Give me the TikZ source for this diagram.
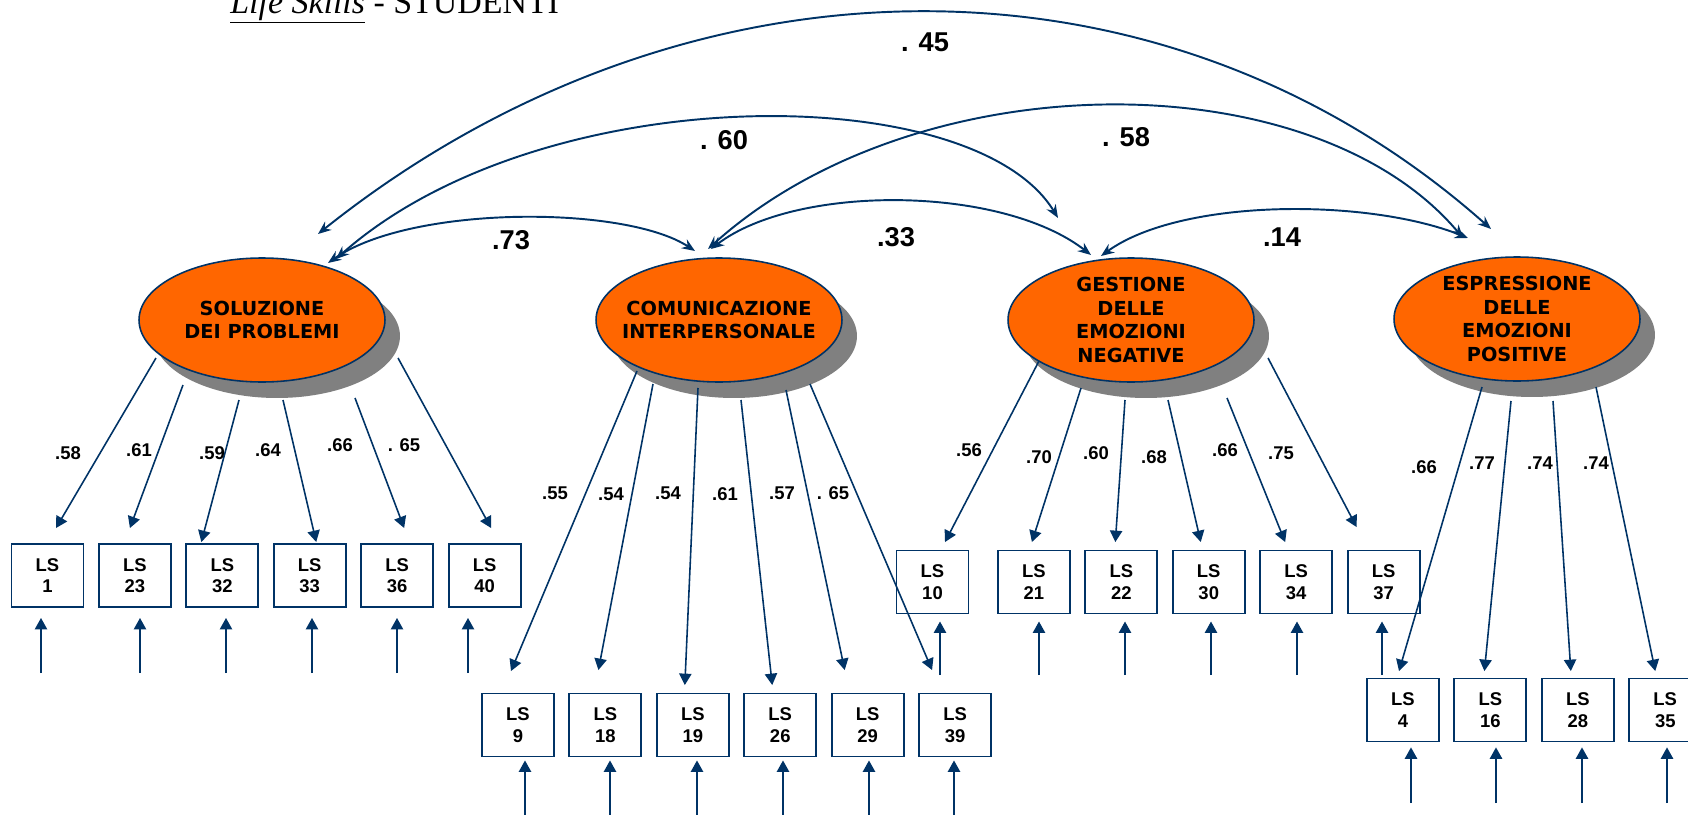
\documentclass[tikz,border=0pt]{standalone}
\usepackage{fontspec}
\setmainfont{Liberation Sans}
\newfontfamily\ellfont{DejaVu Sans}
\newfontfamily\titlefont{Liberation Serif}
\usetikzlibrary{arrows.meta,calc,positioning,shadows,shapes.geometric}
\definecolor{navy}{RGB}{0,51,102}
\definecolor{lvorange}{RGB}{255,102,0}
\definecolor{shadowgrey}{RGB}{128,128,128}

\begin{document}
\begin{tikzpicture}[x=0.02cm,y=-0.02cm,
    latent/.style={ellipse,draw=navy,line width=0.9pt,fill=lvorange,
      minimum width=4.92cm,minimum height=2.48cm,inner xsep=-6pt,inner ysep=0pt,align=center,
      font=\ellfont\bfseries\fontsize{11}{13.6}\selectfont,
      drop shadow={shadow xshift=0.3cm,shadow yshift=-0.32cm,opacity=1,fill=shadowgrey}},
    manifest/.style={rectangle,draw=navy,line width=1.1pt,fill=white,
      minimum width=1.44cm,minimum height=1.26cm,inner sep=0pt,align=center,
      font=\bfseries\fontsize{10.5}{12.3}\selectfont},
    corr/.style={<->,>={Stealth[length=7.5pt,width=6pt,inset=2.5pt]},draw=navy,line width=1.1pt},
    load/.style={->,>={Triangle[length=6.5pt,width=7pt]},draw=navy,line width=0.9pt},
    coef/.style={font=\bfseries\fontsize{10.5}{12}\selectfont,inner sep=0pt},
    bigcoef/.style={font=\bfseries\fontsize{15.5}{18}\selectfont,inner sep=0pt}]

  \useasboundingbox (0,0) rectangle (1688,815);

  \node[anchor=base west,inner sep=0pt,font=\titlefont\fontsize{19.3}{22}\selectfont]
    (title) at (230,13) {\underline{\textit{Life Skills}} - STUDENTI};

  % fattori
  \node[latent] (sol) at (262,320) {SOLUZIONE\\DEI PROBLEMI};
  \node[latent] (com) at (719,320) {COMUNICAZIONE\\INTERPERSONALE};
  \node[latent] (ges) at (1131,320) {GESTIONE\\DELLE\\EMOZIONI\\NEGATIVE};
  \node[latent] (esp) at (1517,319) {ESPRESSIONE\\DELLE\\EMOZIONI\\POSITIVE};

  % item
  \node[manifest] (ls1) at (47.5,575.5) {LS\\1};
  \node[manifest,right=0.27cm of ls1]  (ls23) {LS\\23};
  \node[manifest,right=0.27cm of ls23] (ls32) {LS\\32};
  \node[manifest,right=0.27cm of ls32] (ls33) {LS\\33};
  \node[manifest,right=0.27cm of ls33] (ls36) {LS\\36};
  \node[manifest,right=0.27cm of ls36] (ls40) {LS\\40};

  \node[manifest] (ls9) at (518,725) {LS\\9};
  \node[manifest,right=0.27cm of ls9]  (ls18) {LS\\18};
  \node[manifest,right=0.27cm of ls18] (ls19) {LS\\19};
  \node[manifest,right=0.27cm of ls19] (ls26) {LS\\26};
  \node[manifest,right=0.27cm of ls26] (ls29) {LS\\29};
  \node[manifest,right=0.27cm of ls29] (ls39) {LS\\39};

  \node[manifest] (ls10) at (932.5,582) {LS\\10};
  \node[manifest,right=0.55cm of ls10] (ls21) {LS\\21};
  \node[manifest,right=0.27cm of ls21] (ls22) {LS\\22};
  \node[manifest,right=0.27cm of ls22] (ls30) {LS\\30};
  \node[manifest,right=0.27cm of ls30] (ls34) {LS\\34};
  \node[manifest,right=0.27cm of ls34] (ls37) {LS\\37};

  \node[manifest] (ls4) at (1403,710) {LS\\4};
  \node[manifest,right=0.27cm of ls4]  (ls16) {LS\\16};
  \node[manifest,right=0.27cm of ls16] (ls28) {LS\\28};
  \node[manifest,right=0.27cm of ls28] (ls35) {LS\\35};

  % correlazioni
  \draw[corr] ($(sol.center)+(56,-86)$) .. controls +(366,-292) and +(-329,-292) .. ($(esp.center)+(-26,-90)$);
  \draw[corr] ($(sol.center)+(74,-61)$) .. controls +(204,-181) and +(-85,-140) .. ($(ges.center)+(-73,-102)$);
  \draw[corr] ($(com.center)+(-11,-71)$) .. controls +(210,-189) and +(-150,-178) .. ($(esp.center)+(-54,-81)$);
  \draw[corr] ($(sol.center)+(66,-57)$) .. controls +(83,-58) and +(-70,-46) .. ($(com.center)+(-24,-69)$);
  \draw[corr] ($(com.center)+(-8,-71)$) .. controls +(85,-65) and +(-90,-70) .. ($(ges.center)+(-40,-65)$);
  \draw[corr] ($(ges.center)+(-30,-64)$) .. controls +(80,-58) and +(-100,-40) .. ($(esp.center)+(-49,-81)$);

  \node[bigcoef] (r45) at (925,42)   {. 45};
  \node[bigcoef] (r60) at (724,140)  {. 60};
  \node[bigcoef] (r58) at (1126,137) {. 58};
  \node[bigcoef] (r73) at (511,240)  {.73};
  \node[bigcoef] (r33) at (896,237)  {.33};
  \node[bigcoef] (r14) at (1282,237) {.14};

  % saturazioni
  \coordinate (s1) at (156,358);  \draw[load] (s1) -- ($(ls1.north)+(8.5,-15)$);
  \coordinate (s23) at (183,385); \draw[load] (s23) -- ($(ls23.north)+(-5,-15)$);
  \coordinate (s32) at (239,400); \draw[load] (s32) -- ($(ls32.north)+(-21,-1)$);
  \coordinate (s33) at (283,400); \draw[load] (s33) -- ($(ls33.north)+(6.5,-1)$);
  \coordinate (s36) at (355,398); \draw[load] (s36) -- ($(ls36.north)+(7,-15)$);
  \coordinate (s40) at (398,358); \draw[load] (s40) -- ($(ls40.north)+(6.5,-15)$);

  \coordinate (s9) at (637,371);  \draw[load] (s9) -- ($(ls9.north)+(-7,-21.5)$);
  \coordinate (s18) at (653,384); \draw[load] (s18) -- ($(ls18.north)+(-7,-22.5)$);
  \coordinate (s19) at (698,388); \draw[load] (s19) -- ($(ls19.north)+(-8,-7.5)$);
  \coordinate (s26) at (741,400); \draw[load] (s26) -- ($(ls26.north)+(-8,-7.5)$);
  \coordinate (s29) at (786,390); \draw[load] (s29) -- ($(ls29.north)+(-23,-22.5)$);
  \coordinate (s39) at (810,384); \draw[load] (s39) -- ($(ls39.north)+(-23,-22.5)$);

  \coordinate (s10) at (1039,361); \draw[load] (s10) -- ($(ls10.north)+(12.5,-7.5)$);
  \coordinate (s21) at (1081,388); \draw[load] (s21) -- ($(ls21.north)+(-2,-7.5)$);
  \coordinate (s22) at (1125,400); \draw[load] (s22) -- ($(ls22.north)+(-6,-7.5)$);
  \coordinate (s30) at (1168,400); \draw[load] (s30) -- ($(ls30.north)+(-8,-7.5)$);
  \coordinate (s34) at (1227,398); \draw[load] (s34) -- ($(ls34.north)+(-11,-7.5)$);
  \coordinate (s37) at (1268,358); \draw[load] (s37) -- ($(ls37.north)+(-27,-22.5)$);

  \coordinate (s4) at (1482,387);  \draw[load] (s4) -- ($(ls4.north)+(-4,-6.5)$);
  \coordinate (s16) at (1511,401); \draw[load] (s16) -- ($(ls16.north)+(-6,-6.5)$);
  \coordinate (s28) at (1553,401); \draw[load] (s28) -- ($(ls28.north)+(-7,-6.5)$);
  \coordinate (s35) at (1596,387); \draw[load] (s35) -- ($(ls35.north)+(-10,-6.5)$);

  \node[coef] (c1)  at (68,453)  {.58};
  \node[coef] (c23) at (139,450) {.61};
  \node[coef] (c32) at (212,453) {.59};
  \node[coef] (c33) at (268,450) {.64};
  \node[coef] (c36) at (340,445) {.66};
  \node[coef] (c40) at (404,445) {. 65};

  \node[coef] (c9)  at (555,493) {.55};
  \node[coef] (c18) at (611,494) {.54};
  \node[coef] (c19) at (668,493) {.54};
  \node[coef] (c26) at (725,494) {.61};
  \node[coef] (c29) at (782,493) {.57};
  \node[coef] (c39) at (833,493) {. 65};

  \node[coef] (c10) at (969,450)  {.56};
  \node[coef] (c21) at (1039,457) {.70};
  \node[coef] (c22) at (1096,453) {.60};
  \node[coef] (c30) at (1154,457) {.68};
  \node[coef] (c34) at (1225,450) {.66};
  \node[coef] (c37) at (1281,453) {.75};

  \node[coef] (c4)  at (1424,467) {.66};
  \node[coef] (c16) at (1482,463) {.77};
  \node[coef] (c28) at (1540,463) {.74};
  \node[coef] (c35) at (1596,463) {.74};

  % errori
  \coordinate (u1) at (41,673);   \draw[load,shorten >=5.7pt] (u1) -- (u1 |- ls1.south);
  \coordinate (u23) at (140,673); \draw[load,shorten >=5.7pt] (u23) -- (u23 |- ls23.south);
  \coordinate (u32) at (226,673); \draw[load,shorten >=5.7pt] (u32) -- (u32 |- ls32.south);
  \coordinate (u33) at (312,673); \draw[load,shorten >=5.7pt] (u33) -- (u33 |- ls33.south);
  \coordinate (u36) at (397,673); \draw[load,shorten >=5.7pt] (u36) -- (u36 |- ls36.south);
  \coordinate (u40) at (468,673); \draw[load,shorten >=5.7pt] (u40) -- (u40 |- ls40.south);

  \coordinate (u9) at (525,820);  \draw[load,shorten >=1.7pt] (u9) -- (u9 |- ls9.south);
  \coordinate (u18) at (610,820); \draw[load,shorten >=1.7pt] (u18) -- (u18 |- ls18.south);
  \coordinate (u19) at (697,820); \draw[load,shorten >=1.7pt] (u19) -- (u19 |- ls19.south);
  \coordinate (u26) at (783,820); \draw[load,shorten >=1.7pt] (u26) -- (u26 |- ls26.south);
  \coordinate (u29) at (869,820); \draw[load,shorten >=1.7pt] (u29) -- (u29 |- ls29.south);
  \coordinate (u39) at (954,820); \draw[load,shorten >=1.7pt] (u39) -- (u39 |- ls39.south);

  \coordinate (u10) at (940,675);  \draw[load,shorten >=4pt] (u10) -- (u10 |- ls10.south);
  \coordinate (u21) at (1039,675); \draw[load,shorten >=4pt] (u21) -- (u21 |- ls21.south);
  \coordinate (u22) at (1125,675); \draw[load,shorten >=4pt] (u22) -- (u22 |- ls22.south);
  \coordinate (u30) at (1211,675); \draw[load,shorten >=4pt] (u30) -- (u30 |- ls30.south);
  \coordinate (u34) at (1297,675); \draw[load,shorten >=4pt] (u34) -- (u34 |- ls34.south);
  \coordinate (u37) at (1382,675); \draw[load,shorten >=4pt] (u37) -- (u37 |- ls37.south);

  \coordinate (u4) at (1411,803);  \draw[load,shorten >=2.8pt] (u4) -- (u4 |- ls4.south);
  \coordinate (u16) at (1496,803); \draw[load,shorten >=2.8pt] (u16) -- (u16 |- ls16.south);
  \coordinate (u28) at (1582,803); \draw[load,shorten >=2.8pt] (u28) -- (u28 |- ls28.south);
  \coordinate (u35) at (1667,803); \draw[load,shorten >=2.8pt] (u35) -- (u35 |- ls35.south);
\end{tikzpicture}
\end{document}
